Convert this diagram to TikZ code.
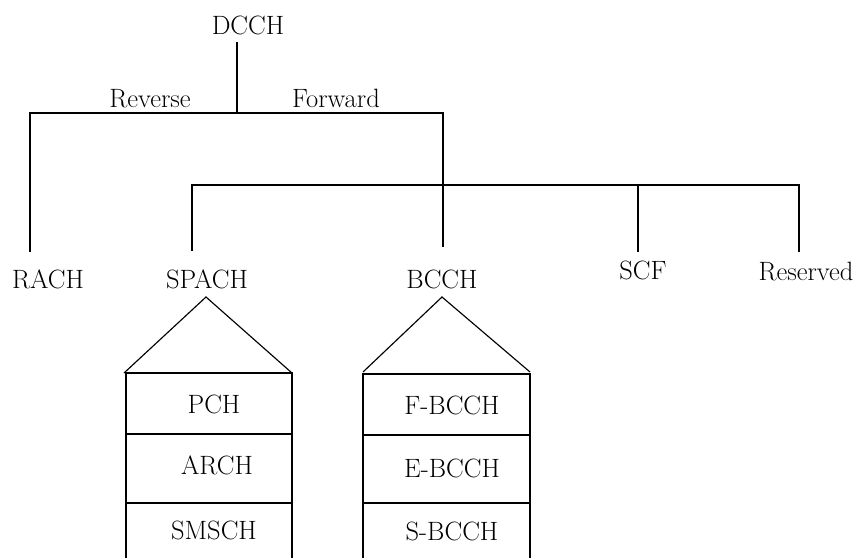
\documentclass[tikz,border=0pt]{standalone}
\begin{document}
\begin{tikzpicture}[x=1pt,y=-1pt,
  lbl/.style={inner sep=0pt,anchor=base,font=\fontsize{26.5}{30}\selectfont},
  ln/.style={line width=1.15pt,line join=miter}]
\useasboundingbox (0,0) rectangle (857,558);
% labels
\node[lbl] (dcch) at (248,34) {DCCH};
\node[lbl] (rev) at (150,107) {Reverse};
\node[lbl] (fwd) at (336,107) {Forward};
\node[lbl] (rach) at (48,288) {RACH};
\node[lbl] (spach) at (207,288) {SPACH};
\node[lbl] (bcch) at (442,288) {BCCH};
\node[lbl] (scf) at (643,279) {SCF};
\node[lbl] (res) at (806,280) {Reserved};
% coordinates
\coordinate (d0) at (237,42);
\coordinate (d1) at (237,113);
\coordinate (l1) at (30,113);
\coordinate (l2) at (30,252);
\coordinate (f1) at (443,113);
\coordinate (f2) at (443,247);
\coordinate (h1) at (192,185);
\coordinate (h2) at (192,251);
\coordinate (h3) at (799,185);
\coordinate (h4) at (799,252);
\coordinate (s1) at (638,185);
\coordinate (s2) at (638,252);
% tree
\draw[ln] (d0) -- (d1);
\draw[ln] (l2) -- (l1) -- (f1) -- (f2);
\draw[ln] (h2) -- (h1) -- (h3) -- (h4);
\draw[ln] (s1) -- (s2);
% SPACH house
\coordinate (sa) at (206,297);
\coordinate (sl) at (124,373);
\coordinate (sr) at (292,373);
\draw[ln] (sl) -- (sa) -- (sr);
\draw[ln] (126,558) -- (126,373) -- (292,373) -- (292,558);
\draw[ln] (126,434) -- (292,434);
\draw[ln] (126,503) -- (292,503);
\node[lbl] (pch) at (214,413) {PCH};
\node[lbl] (arch) at (217,474) {ARCH};
\node[lbl] (smsch) at (214,539) {SMSCH};
% BCCH house
\coordinate (ba) at (442,297);
\coordinate (bl) at (363,372);
\coordinate (br) at (530,372);
\draw[ln] (bl) -- (ba) -- (br);
\draw[ln] (363,558) -- (363,374) -- (530,374) -- (530,558);
\draw[ln] (363,435) -- (530,435);
\draw[ln] (363,503) -- (530,503);
\node[lbl] (fb) at (452,414) {F-BCCH};
\node[lbl] (eb) at (452,477) {E-BCCH};
\node[lbl] (sb) at (452,540) {S-BCCH};
\end{tikzpicture}
\end{document}
